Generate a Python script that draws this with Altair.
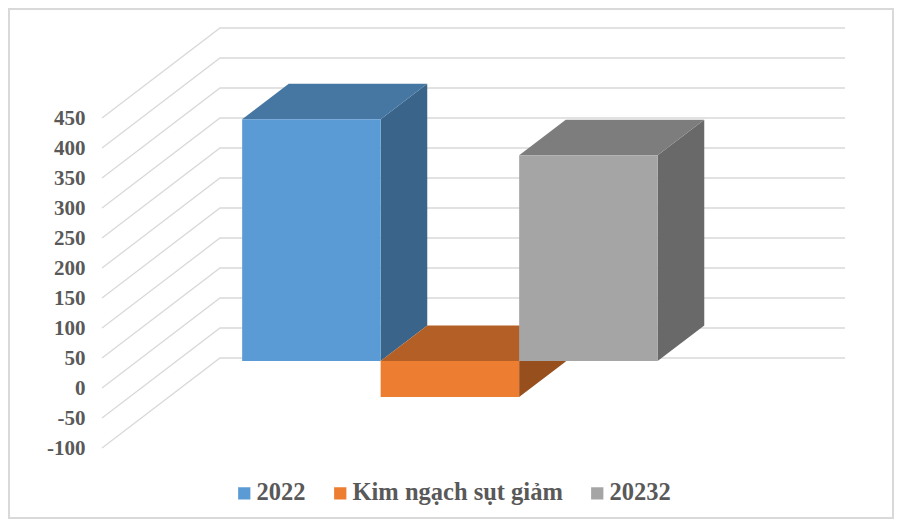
import altair as alt
import pandas as pd

# Chart values
series = ["2022", "Kim ngạch sụt giảm", "20232"]
values = [403, -60, 343]
front_colors = ["#5B9BD5", "#ED7D31", "#A5A5A5"]
top_colors = ["#4676A2", "#B45F25", "#7D7D7D"]
side_colors = ["#3A6489", "#974F1E", "#696969"]
ticks = [-100, -50, 0, 50, 100, 150, 200, 250, 300, 350, 400, 450]

# Oblique projection of the 3D plot box, in axis units
DX = 118 / 625   # horizontal shift of the full depth, in category widths
DY = 150         # vertical shift of the full depth, in value units
bar_w = 0.2216
first_left = 0.5 - 1.5 * bar_w
d0, d1 = 0.3, 0.695


def px(u, d):
    return u + DX * d


def py(v, d):
    return v + DY * d


grid_rows, side_rows, top_rows, front_rows = [], [], [], []
for t in ticks:
    for order, (u, d) in enumerate([(0, 0), (0, 1), (1, 1)]):
        grid_rows.append({"tick": t, "order": order, "x": px(u, d), "y": py(t, d)})

for i, (s, v) in enumerate(zip(series, values)):
    left = first_left + i * bar_w
    right = left + bar_w
    hi, lo = max(v, 0), min(v, 0)
    front_rows.append({"series": s, "x": px(left, d0), "x2": px(right, d0),
                       "y": py(hi, d0), "y2": py(lo, d0)})
    for d in (d0, d1):
        side_rows.append({"series": s, "fill": side_colors[i], "x": px(right, d),
                          "y": py(hi, d), "y2": py(lo, d)})
        top_rows.append({"series": s, "fill": top_colors[i], "x": px(left, d),
                         "x2": px(right, d), "y": py(hi, d)})

W, H = 886, 511
x_scale = alt.Scale(domain=[(8 - 102) / 625, (8 + W - 102) / 625], range=[0, W], nice=False, zero=False)
y_scale = alt.Scale(domain=[(388 - 8 - H) / 0.6, (388 - 8) / 0.6], range=[H, 0], nice=False, zero=False)

y_axis = alt.Axis(
    title=None, values=ticks, grid=False, domain=False, ticks=False,
    labelFont="Liberation Serif", labelFontSize=21, labelFontWeight="bold",
    labelColor="#595959", labelPadding=0, offset=-77,
    labelExpr="'' + datum.value",
)

x_enc = alt.X("x:Q", scale=x_scale, axis=None)
y_enc = alt.Y("y:Q", scale=y_scale, axis=y_axis)

grid = alt.Chart(pd.DataFrame(grid_rows)).mark_line(
    color="#D9D9D9", strokeWidth=1.3
).encode(x=x_enc, y=y_enc, detail="tick:N", order="order:Q")

sides = alt.Chart(pd.DataFrame(side_rows)).mark_area(opacity=1).encode(
    x=x_enc, y=y_enc, y2="y2:Q",
    color=alt.Color("fill:N", scale=None), detail="series:N",
)

tops = alt.Chart(pd.DataFrame(top_rows)).mark_area(opacity=1, orient="horizontal").encode(
    x=x_enc, x2="x2:Q", y=y_enc,
    color=alt.Color("fill:N", scale=None), detail="series:N",
)

fronts = alt.Chart(pd.DataFrame(front_rows)).mark_rect().encode(
    x=x_enc, x2="x2:Q",
    y=y_enc,
    y2="y2:Q",
    color=alt.Color("series:N", scale=alt.Scale(domain=series, range=front_colors),
                    legend=alt.Legend(
                        title=None, orient="none", legendX=224, legendY=473,
                        direction="horizontal", symbolType="square", symbolSize=150,
                        symbolStrokeWidth=0, labelFont="Liberation Serif", labelFontSize=24.5,
                        labelFontWeight="bold", labelColor="#595959", labelOffset=0,
                        columnPadding=22, labelLimit=400,
                    )),
)

chart = alt.layer(grid, sides, tops, fronts).properties(
    width=W, height=H, padding=0, autosize="none"
).configure_view(stroke="#D9D9D9", strokeWidth=4, fill="white")

chart.save("out.html", embed_options={"renderer": "svg", "actions": False})
